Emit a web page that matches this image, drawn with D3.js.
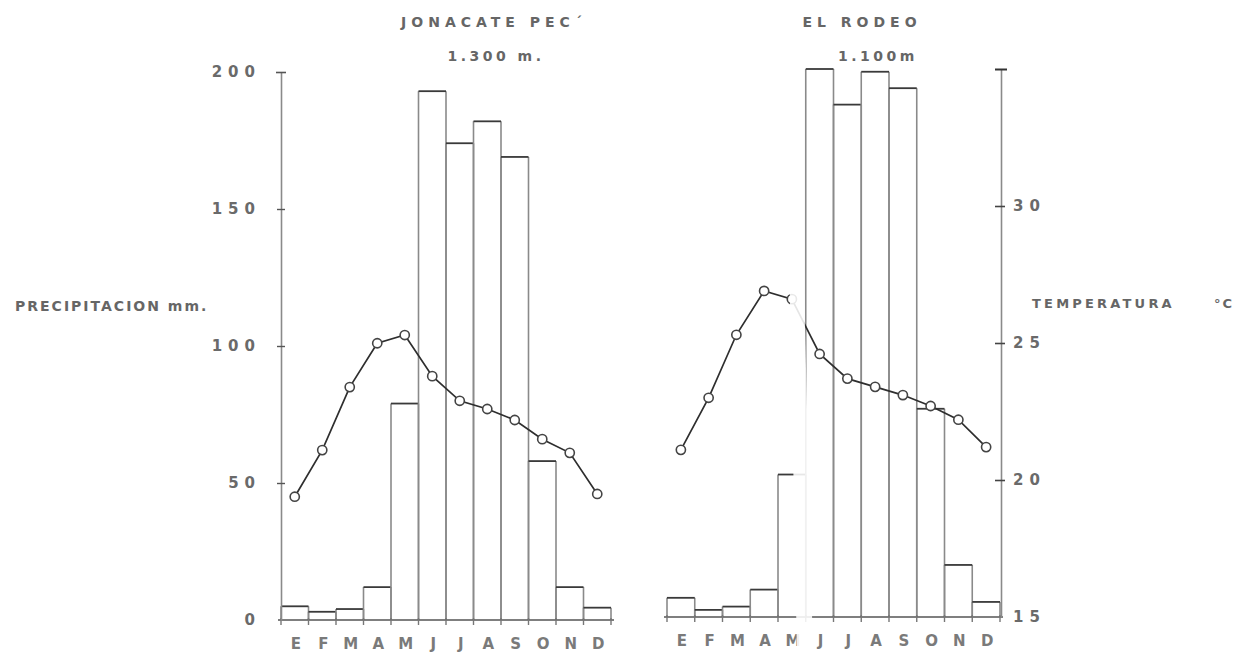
<!DOCTYPE html>
<html>
<head>
<meta charset="utf-8">
<script src="https://cdn.jsdelivr.net/npm/d3@7"></script>
<style>
  body { margin: 0; background: #fff; }
  svg text { font-family: "DejaVu Sans", sans-serif; font-weight: bold; fill: #666; }
</style>
</head>
<body>
<svg id="chart" width="1257" height="655"></svg>
<script>
// climate diagrams, two stations
const months = ['E', 'F', 'M', 'A', 'M', 'J', 'J', 'A', 'S', 'O', 'N', 'D']
const rainJonacate = [5, 3, 4, 12, 79, 193, 174, 182, 169, 58, 12, 4.5]
const tempJonacate = [19.5, 21.2, 23.5, 25.1, 25.4, 23.9, 23.0, 22.7, 22.3, 21.6, 21.1, 19.6]
const rainRodeo = [7, 2.6, 3.8, 10, 52, 200, 187, 199, 193, 76, 19, 5.5]
const tempRodeo = [21.1, 23.0, 25.3, 26.9, 26.6, 24.6, 23.7, 23.4, 23.1, 22.7, 22.2, 21.2]
const precipTicks = [0, 50, 100, 150, 200]
const tempTicks = [15, 20, 25, 30, 35]

const svg = d3.select('#chart')

function panel(cfg) {
    const idx = d3.range(months.length)
    const x = d3.scaleBand().domain(idx).range([cfg.x0, cfg.x1]).padding(0)
    const yP = d3.scaleLinear().domain([0, 200]).range([cfg.base, cfg.top])
    const yT = d3.scaleLinear().domain([15, 35]).range([cfg.base, cfg.top])
    const g = svg.append('g')

    // bars: grey sides, dark top
    const bars = g.selectAll('.bar').data(cfg.rain).enter().append('g')
    bars.each(function (d, i) {
        const b = d3.select(this)
        const xl = x(i), xr = x(i) + x.bandwidth()
        b.append('line').attr('x1', xl).attr('x2', xl).attr('y1', yP(0)).attr('y2', yP(d))
            .attr('stroke', '#8a8a8a').attr('stroke-width', 1.6)
        b.append('line').attr('x1', xr).attr('x2', xr).attr('y1', yP(0)).attr('y2', yP(d))
            .attr('stroke', '#8a8a8a').attr('stroke-width', 1.6)
        b.append('line').attr('x1', xl).attr('x2', xr).attr('y1', yP(d)).attr('y2', yP(d))
            .attr('stroke', '#3a3a3a').attr('stroke-width', 1.8)
    })

    // baseline with boundary ticks
    g.append('line').attr('x1', cfg.x0 - 3).attr('x2', cfg.x1 + 3)
        .attr('y1', yP(0)).attr('y2', yP(0)).attr('stroke', '#555').attr('stroke-width', 1.6)
    g.selectAll('.btick').data(d3.range(months.length + 1)).enter().append('line')
        .attr('x1', i => i < months.length ? x(i) : cfg.x1)
        .attr('x2', i => i < months.length ? x(i) : cfg.x1)
        .attr('y1', yP(0) - 2).attr('y2', yP(0) + 5)
        .attr('stroke', '#777').attr('stroke-width', 1.4)

    // month labels
    g.selectAll('.mlab').data(months).enter().append('text')
        .attr('x', (d, i) => x(i) + x.bandwidth() / 2 + 1)
        .attr('y', cfg.base + 29)
        .attr('text-anchor', 'middle')
        .style('font-size', '15px')
        .style('fill', '#7a7a7a')
        .text(d => d)

    // temperature line
    const line = d3.line().x((d, i) => x(i) + x.bandwidth() / 2).y(d => yT(d))
    g.append('path').datum(cfg.temp).attr('d', line)
        .attr('fill', 'none').attr('stroke', '#2e2e2e').attr('stroke-width', 1.7)
    g.selectAll('.pt').data(cfg.temp).enter().append('circle')
        .attr('cx', (d, i) => x(i) + x.bandwidth() / 2)
        .attr('cy', d => yT(d))
        .attr('r', 4.6)
        .attr('fill', '#fff').attr('stroke', '#444').attr('stroke-width', 1.6)

    // titles
    g.append('text').attr('x', cfg.titleX).attr('y', 27).attr('text-anchor', 'middle')
        .style('font-size', '14px').style('letter-spacing', '5px').text(cfg.title)
    g.append('text').attr('x', cfg.subX).attr('y', 61).attr('text-anchor', 'middle')
        .style('font-size', '14px').style('letter-spacing', '3.5px').text(cfg.sub)

    return { x, yP, yT }
}

const left = panel({
    x0: 281, x1: 611, base: 620, top: 72,
    rain: rainJonacate, temp: tempJonacate,
    title: 'JONACATE PEC´', titleX: 494, sub: '1.300 m.', subX: 496
})
const right = panel({
    x0: 667, x1: 1000, base: 617, top: 69,
    rain: rainRodeo, temp: tempRodeo,
    title: 'EL RODEO', titleX: 862, sub: '1.100m', subX: 878
})

// precipitation axis
const axL = svg.append('g').attr('transform', 'translate(281,0)')
    .call(d3.axisLeft(left.yP).tickValues(precipTicks).tickSize(0).tickPadding(20))
axL.select('.domain').attr('stroke', '#8a8a8a').attr('stroke-width', 1.6)
axL.selectAll('.tick text').style('font-size', '15px').style('letter-spacing', '6px')
    .style('font-family', '"DejaVu Sans", sans-serif').style('font-weight', 'bold').style('fill', '#6a6a6a')
axL.selectAll('.tick').filter(d => d > 0 && d < 200).append('line')
    .attr('x1', -4).attr('x2', 4).attr('stroke', '#555').attr('stroke-width', 1.4)
axL.selectAll('.tick').filter(d => d === 200).append('line')
    .attr('x1', -5).attr('x2', 5).attr('stroke', '#555').attr('stroke-width', 1.6)

// temperature axis
const axR = svg.append('g').attr('transform', 'translate(1001,0)')
    .call(d3.axisRight(right.yT).tickValues(tempTicks).tickSize(0).tickPadding(12)
        .tickFormat(d => d === 35 ? '' : d))
axR.select('.domain').attr('stroke', '#8a8a8a').attr('stroke-width', 1.6)
axR.selectAll('.tick text').style('font-size', '15px').style('letter-spacing', '6px')
    .style('font-family', '"DejaVu Sans", sans-serif').style('font-weight', 'bold').style('fill', '#6a6a6a')
axR.selectAll('.tick').filter(d => d > 15 && d < 35).append('line')
    .attr('x1', -6).attr('x2', 4).attr('stroke', '#444').attr('stroke-width', 1.6)
axR.selectAll('.tick').filter(d => d === 35).append('line')
    .attr('x1', -6).attr('x2', 6).attr('stroke', '#333').attr('stroke-width', 2)

// axis titles
svg.append('text').attr('x', 15).attr('y', 311)
    .style('font-size', '14px').style('letter-spacing', '2px').text('PRECIPITACION mm.')
svg.append('text').attr('x', 1032).attr('y', 308)
    .style('font-size', '13px').style('letter-spacing', '3.2px').text('TEMPERATURA')
svg.append('text').attr('x', 1214).attr('y', 308)
    .style('font-size', '13px').style('letter-spacing', '2px').text('°C')

// paper fold across the right diagram
svg.append('polygon')
    .attr('points', '784,0 797,0 813,655 797,655')
    .attr('fill', '#fff').attr('opacity', 0.88)
</script>
</body>
</html>
